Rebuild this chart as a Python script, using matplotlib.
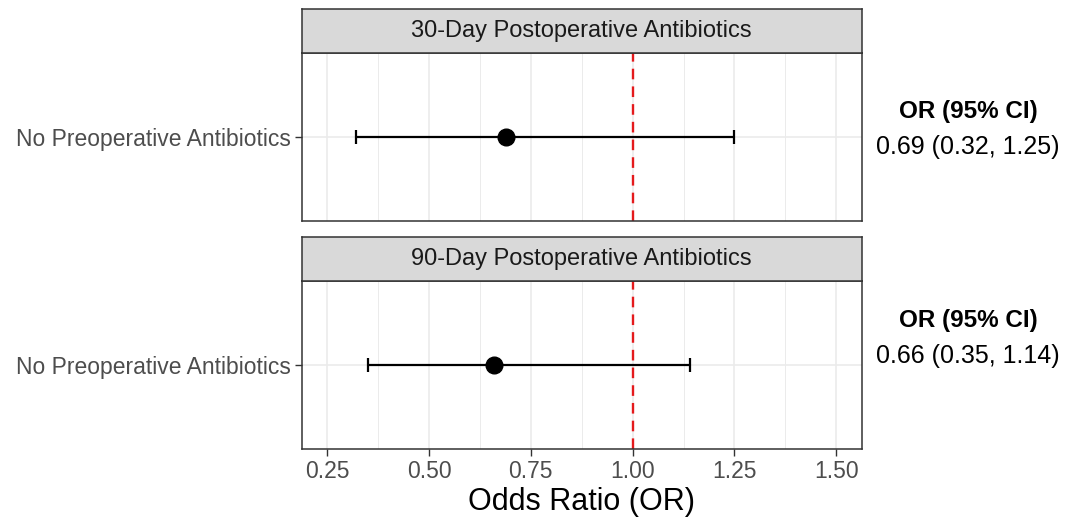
import matplotlib
matplotlib.use("Agg")
from matplotlib import pyplot as plt
from matplotlib.ticker import MultipleLocator

# Dados do gráfico
outcomes = ["30-Day Postoperative Antibiotics", "90-Day Postoperative Antibiotics"]
group = "No Preoperative Antibiotics"
or_vals = [0.69, 0.66]
ci_low = [0.32, 0.35]
ci_high = [1.25, 1.14]
x_ticks = [0.25, 0.50, 0.75, 1.00, 1.25, 1.50]

plt.rcParams['font.family'] = ['Liberation Sans', 'DejaVu Sans']

fig = plt.figure(figsize=(10.72, 5.2), dpi=100)

W, H = 1072, 520
left, right = 301.7, 861.7
# (topo da faixa, base da faixa, base do painel) em pixels
panels = [(9.3, 53.3, 220.7), (237.3, 281.0, 448.5)]
# posição do texto OR (95% CI) em pixels
text_y = [(111.7, 146.7), (320.5, 355.5)]

border = '#333333'
grid_col = '#EBEBEB'

for i, (s_top, s_bot, p_bot) in enumerate(panels):
    ax = fig.add_axes([left / W, 1 - p_bot / H, (right - left) / W, (p_bot - s_bot) / H])
    sx = fig.add_axes([left / W, 1 - s_bot / H, (right - left) / W, (s_bot - s_top) / H])

    # painel principal
    ax.set_xlim(0.1875, 1.5625)
    ax.set_ylim(-0.6, 0.6)
    ax.xaxis.set_minor_locator(MultipleLocator(0.125))
    ax.set_xticks(x_ticks)
    ax.grid(which='major', color=grid_col, lw=1.2, zorder=0)
    ax.grid(which='minor', axis='x', color=grid_col, lw=0.7, zorder=0)
    ax.set_axisbelow(True)

    ax.axvline(1.0, color='#E41A1C', lw=1.7, ls=(0, (4.5, 3)), zorder=2)

    err_lo = [or_vals[i] - ci_low[i]]
    err_hi = [ci_high[i] - or_vals[i]]
    ax.errorbar([or_vals[i]], [0], xerr=[err_lo, err_hi], fmt='none',
                ecolor='black', elinewidth=1.6, capsize=4.8, capthick=1.6, zorder=3)
    ax.plot([or_vals[i]], [0], 'o', color='black', markersize=12, zorder=4)

    ax.set_yticks([0])
    ax.set_yticklabels([group])
    for sp in ax.spines.values():
        sp.set_color(border)
        sp.set_linewidth(1.1)
    ax.tick_params(axis='both', which='major', length=5, width=1.0, color=border,
                   labelcolor='#4D4D4D', labelsize=16.5, pad=3)
    ax.tick_params(axis='x', which='minor', length=0)
    if i == 0:
        ax.tick_params(axis='x', which='both', labelbottom=False, length=0)
    else:
        ax.set_xticklabels([f"{t:.2f}" for t in x_ticks])
        ax.set_xlabel("Odds Ratio (OR)", fontsize=22, color='black', labelpad=3)

    # faixa do título (strip)
    sx.set_facecolor('#D9D9D9')
    sx.set_xticks([])
    sx.set_yticks([])
    for sp in sx.spines.values():
        sp.set_color(border)
        sp.set_linewidth(1.1)
    sx.text(0.5, 0.5, outcomes[i], ha='center', va='center', fontsize=17,
            color='#1A1A1A', transform=sx.transAxes)

    # texto OR (95% CI) à direita
    label = f"{or_vals[i]:.2f} ({ci_low[i]:.2f}, {ci_high[i]:.2f})"
    fig.text(968 / W, 1 - text_y[i][0] / H, "OR (95% CI)", ha='center', va='center',
             fontsize=17.5, fontweight='bold', color='black')
    fig.text(968 / W, 1 - text_y[i][1] / H, label, ha='center', va='center',
             fontsize=18, color='black')

fig.savefig('out.png', dpi=100, facecolor='white')
